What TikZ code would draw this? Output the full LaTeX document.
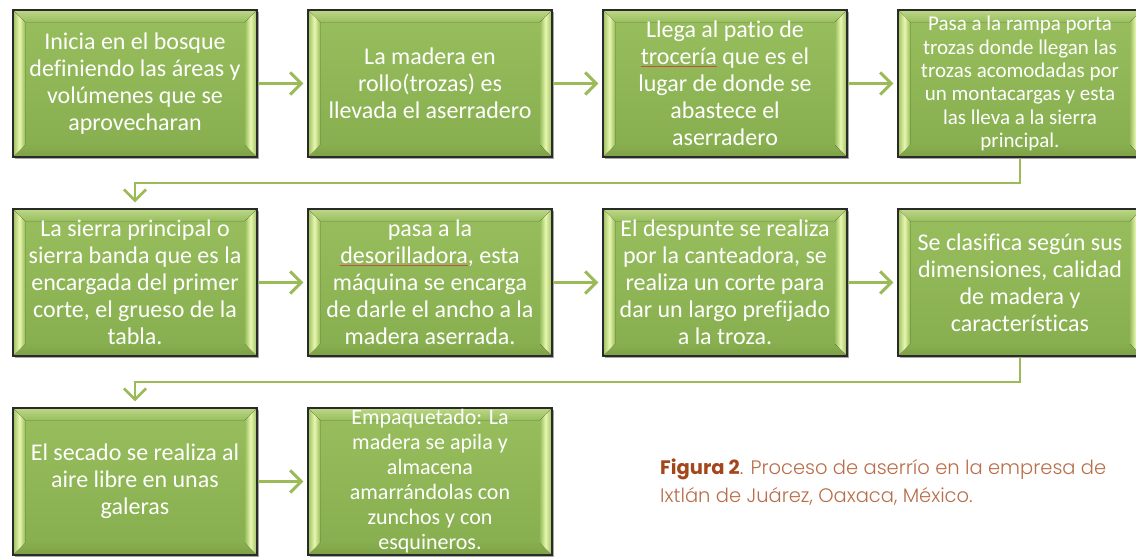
\documentclass[tikz,border=0pt]{standalone}
\usepackage{fontspec}
\setmainfont{Carlito}[Ligatures=NoCommon]
\IfFontExistsTF{Poppins Light}{\newfontfamily\caplight{Poppins Light}}{\newfontfamily\caplight{Poppins}}
\newfontfamily\capheavy{Poppins}
\usetikzlibrary{arrows.meta,shadows}
\definecolor{boxtop}{HTML}{98BE5E}
\definecolor{boxbot}{HTML}{87AE4E}
\definecolor{boxborder}{HTML}{2A2A2A}
\definecolor{bevout}{HTML}{A6C76B}
\definecolor{bevlight}{HTML}{E8F6AE}
\definecolor{bevtop}{HTML}{BAD684}
\definecolor{bevbot}{HTML}{7EA246}
\definecolor{flowc}{HTML}{9BBB59}
\definecolor{capbold}{HTML}{A4461C}
\definecolor{captext}{HTML}{B86E4A}
\definecolor{ulred}{HTML}{C0504D}
\newcommand\spellul[1]{{\color{ulred}\underline{\color{white}#1}}}
\newcommand\bevel{%
  \coordinate (bnw) at (path picture bounding box.north west);
  \coordinate (bse) at (path picture bounding box.south east);
  \coordinate (bne) at (bnw -| bse);
  \coordinate (bsw) at (bnw |- bse);
  \fill[top color=bevtop, bottom color=boxtop]
    ([shift={(1pt,-1pt)}]bnw) -- ([shift={(-1pt,-1pt)}]bne) -- ([shift={(-12pt,-12pt)}]bne) -- ([shift={(12pt,-12pt)}]bnw) -- cycle;
  \fill[top color=boxbot, bottom color=bevbot]
    ([shift={(1pt,1pt)}]bsw) -- ([shift={(-1pt,1pt)}]bse) -- ([shift={(-12pt,12pt)}]bse) -- ([shift={(12pt,12pt)}]bsw) -- cycle;
  \fill[left color=bevout, right color=boxtop, middle color=bevlight]
    ([shift={(1pt,-1pt)}]bnw) -- ([shift={(12pt,-12pt)}]bnw) -- ([shift={(12pt,12pt)}]bsw) -- ([shift={(1pt,1pt)}]bsw) -- cycle;
  \fill[left color=boxtop, right color=bevout, middle color=bevlight]
    ([shift={(-1pt,-1pt)}]bne) -- ([shift={(-12pt,-12pt)}]bne) -- ([shift={(-12pt,12pt)}]bse) -- ([shift={(-1pt,1pt)}]bse) -- cycle;
}
\tikzset{
  stepbox/.style={draw=boxborder, line width=1.4pt, minimum width=244pt, minimum height=147pt,
    inner sep=0pt, top color=boxtop, bottom color=boxbot, text=white, align=center,
    font=\fontsize{24}{27}\selectfont,
    drop shadow={shadow xshift=1.5pt, shadow yshift=-2pt, opacity=0.35, fill=black},
    path picture={\bevel}},
  smalltext/.style={font=\fontsize{21}{23.3}\selectfont},
  midtext/.style={font=\fontsize{22}{25}\selectfont},
  flow/.style={draw=flowc, line width=3pt, -{Straight Barb[length=11pt,width=22pt]}, shorten >=4pt},
  rowlink/.style={draw=flowc, line width=2.6pt, -{Straight Barb[length=11pt,width=22pt]}, shorten >=6pt},
  captionline/.style={anchor=base west, inner sep=0pt, text=captext, font=\caplight\fontsize{19.5}{22}\selectfont}
}
\begin{document}
\begin{tikzpicture}[x=1pt,y=-1pt]
\useasboundingbox (0,0) rectangle (1136,557);
% row 1
\node[stepbox] (b1) at (135,83.5) {Inicia en el bosque\\definiendo las áreas y\\volúmenes que se\\aprovecharan};
\node[stepbox] (b2) at (430,83.5) {La madera en\\rollo(trozas) es\\llevada el aserradero};
\node[stepbox] (b3) at (725,83.5) {Llega al patio de\\\spellul{trocería} que es el\\lugar de donde se\\abastece el\\aserradero};
\node[stepbox, smalltext] (b4) at (1020,83.5) {Pasa a la rampa porta\\trozas donde llegan las\\trozas acomodadas por\\un montacargas y esta\\las lleva a la sierra\\principal.};
% row 2
\node[stepbox] (b5) at (135,282.5) {La sierra principal o\\sierra banda que es la\\encargada del primer\\corte, el grueso de la\\tabla.};
\node[stepbox] (b6) at (430,282.5) {pasa a la\\\spellul{desorilladora}, esta\\máquina se encarga\\de darle el ancho a la\\madera aserrada.};
\node[stepbox] (b7) at (725,282.5) {El despunte se realiza\\por la canteadora, se\\realiza un corte para\\dar un largo prefijado\\a la troza.};
\node[stepbox] (b8) at (1020,282.5) {Se clasifica según sus\\dimensiones, calidad\\de madera y\\características};
% row 3
\node[stepbox] (b9) at (135,481.5) {El secado se realiza al\\aire libre en unas\\galeras};
\node[stepbox, midtext] (b10) at (430,481.5) {Empaquetado: La\\madera se apila y\\almacena\\amarrándolas con\\zunchos y con\\esquineros.};
% connectors
\draw[flow] (b1) -- (b2);
\draw[flow] (b2) -- (b3);
\draw[flow] (b3) -- (b4);
\draw[flow] (b5) -- (b6);
\draw[flow] (b6) -- (b7);
\draw[flow] (b7) -- (b8);
\draw[flow] (b9) -- (b10);
\coordinate (t1) at (577.5,183);
\coordinate (t2) at (577.5,382);
\draw[rowlink] (b4.south) |- (t1) -| (b5.north);
\draw[rowlink] (b8.south) |- (t2) -| (b9.north);
% caption
\node[captionline] (cap1) at (660,474) {{\capheavy\bfseries\color{capbold}Figura 2}. Proceso de aserrío en la empresa de};
\node[captionline] (cap2) at (660,502) {Ixtlán de Juárez, Oaxaca, México.};
\end{tikzpicture}
\end{document}
